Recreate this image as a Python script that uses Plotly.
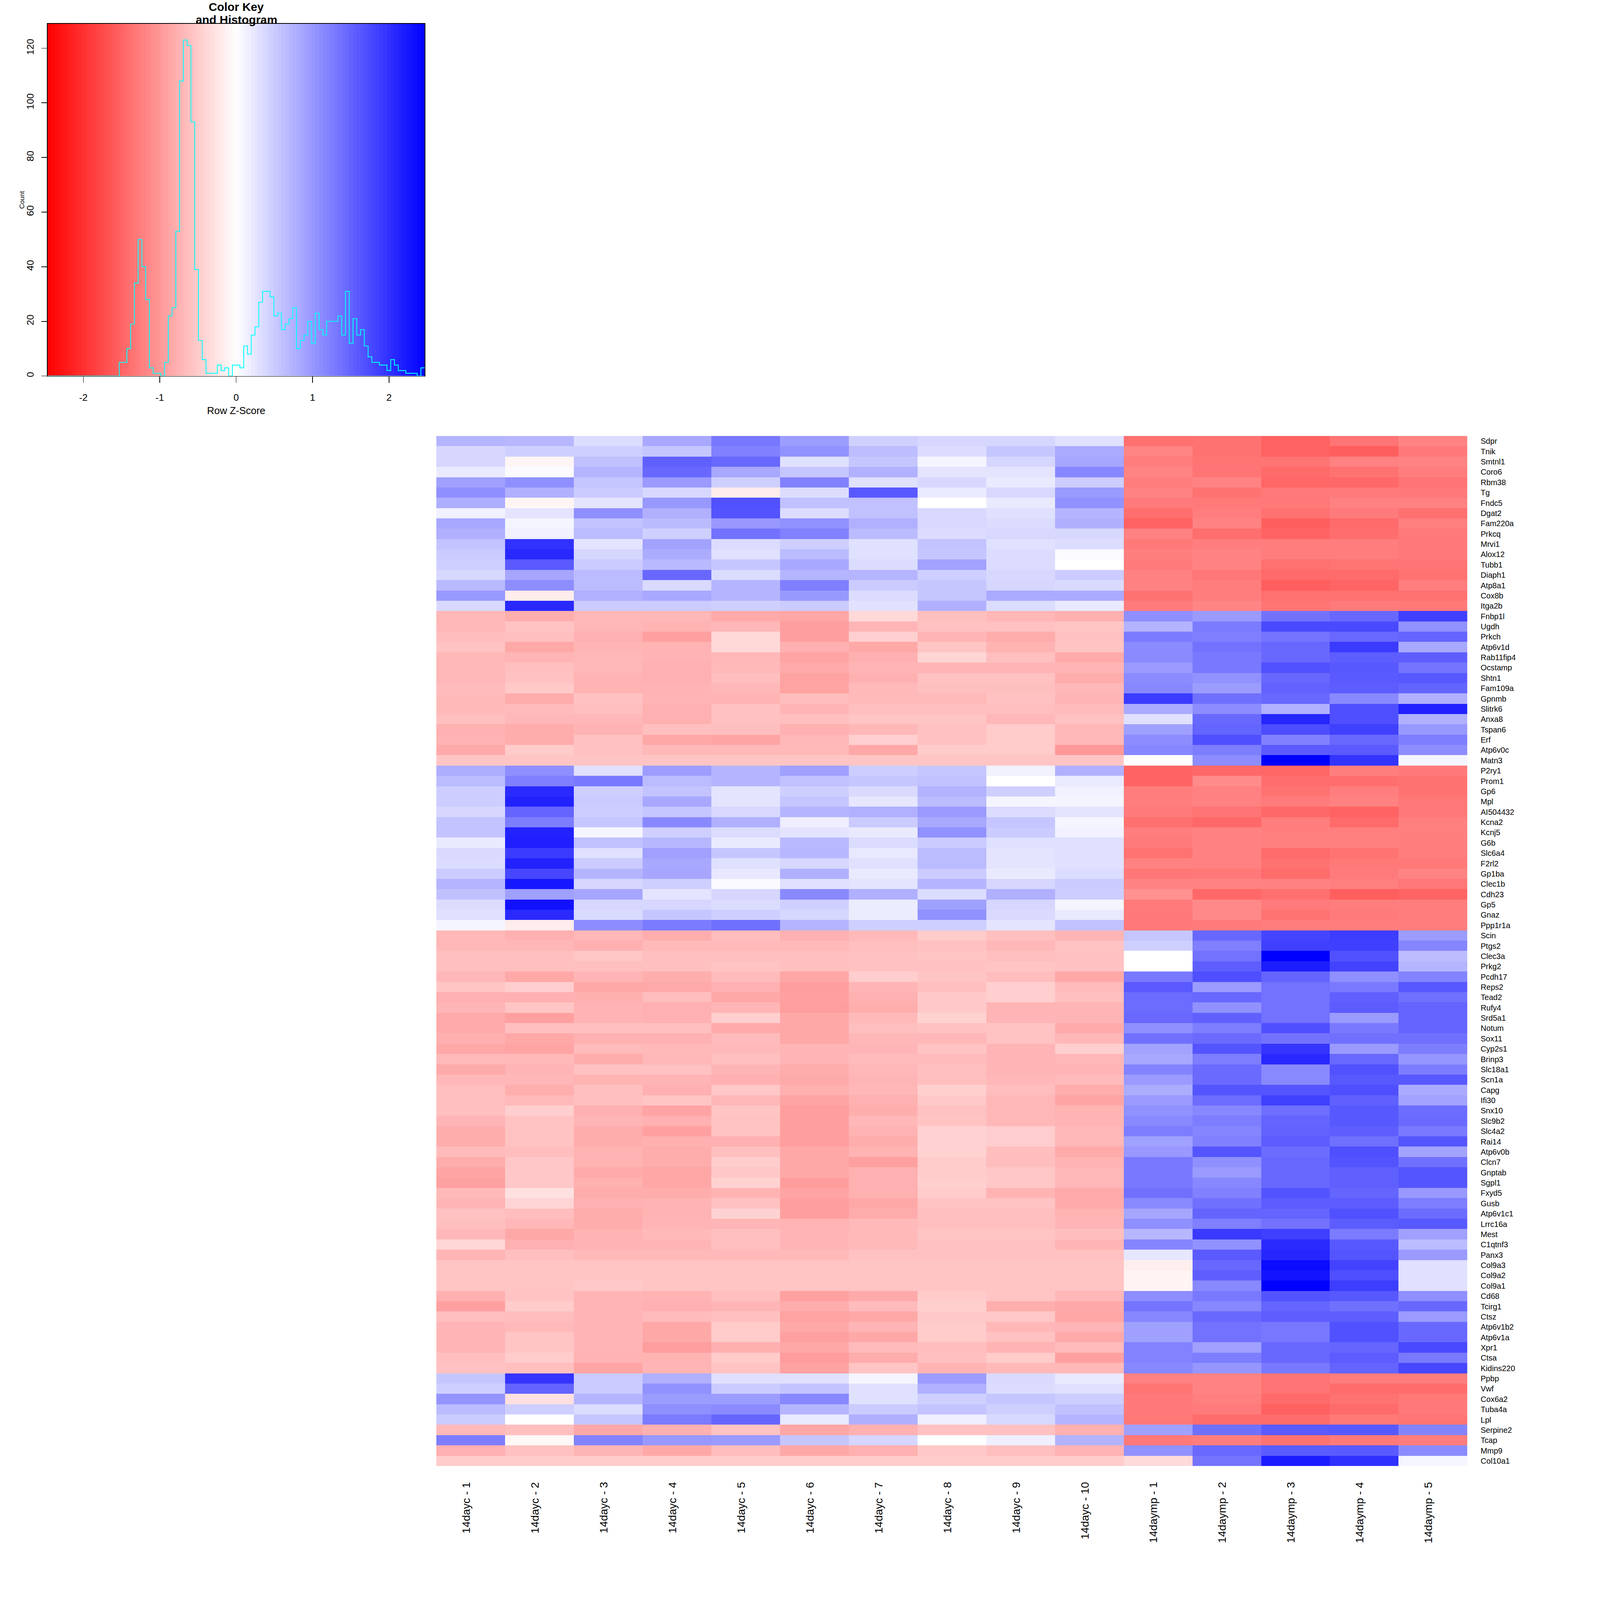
import numpy as np
import plotly.graph_objects as go

genes = ["Sdpr", "Tnik", "Smtnl1", "Coro6", "Rbm38", "Tg", "Fndc5", "Dgat2", "Fam220a", "Prkcq",
         "Mrvi1", "Alox12", "Tubb1", "Diaph1", "Atp8a1", "Cox8b", "Itga2b", "Fnbp1l", "Ugdh", "Prkch",
         "Atp6v1d", "Rab11fip4", "Ocstamp", "Shtn1", "Fam109a", "Gpnmb", "Slitrk6", "Anxa8", "Tspan6", "Erf",
         "Atp6v0c", "Matn3", "P2ry1", "Prom1", "Gp6", "Mpl", "AI504432", "Kcna2", "Kcnj5", "G6b",
         "Slc6a4", "F2rl2", "Gp1ba", "Clec1b", "Cdh23", "Gp5", "Gnaz", "Ppp1r1a", "Scin", "Ptgs2",
         "Clec3a", "Prkg2", "Pcdh17", "Reps2", "Tead2", "Rufy4", "Srd5a1", "Notum", "Sox11", "Cyp2s1",
         "Brinp3", "Slc18a1", "Scn1a", "Capg", "Ifi30", "Snx10", "Slc9b2", "Slc4a2", "Rai14", "Atp6v0b",
         "Clcn7", "Gnptab", "Sgpl1", "Fxyd5", "Gusb", "Atp6v1c1", "Lrrc16a", "Mest", "C1qtnf3", "Panx3",
         "Col9a3", "Col9a2", "Col9a1", "Cd68", "Tcirg1", "Ctsz", "Atp6v1b2", "Atp6v1a", "Xpr1", "Ctsa",
         "Kidins220", "Ppbp", "Vwf", "Cox6a2", "Tuba4a", "Lpl", "Serpine2", "Tcap", "Mmp9", "Col10a1"]

samples = ["14dayc - 1", "14dayc - 2", "14dayc - 3", "14dayc - 4", "14dayc - 5",
           "14dayc - 6", "14dayc - 7", "14dayc - 8", "14dayc - 9", "14dayc - 10",
           "14daymp - 1", "14daymp - 2", "14daymp - 3", "14daymp - 4", "14daymp - 5"]

# row z-scores, top row first
zscores = [
    [.72, .70, .34, .84, 1.31, .95, .45, .40, .40, .30, -1.38, -1.36, -1.52, -1.34, -1.2],
    [.40, .46, .46, .55, 1.22, 1.05, .64, .34, .55, .82, -1.18, -1.36, -1.52, -1.56, -1.3],
    [.40, -.1, .60, 1.54, 1.46, .30, .55, .1, .40, .86, -1.26, -1.34, -1.34, -1.22, -1.2],
    [.2, .05, .72, 1.46, .84, .55, .75, .26, .26, 1.16, -1.2, -1.34, -1.44, -1.36, -1.26],
    [.92, 1.08, .56, .98, .46, 1.22, .3, .38, .2, .48, -1.26, -1.2, -1.48, -1.46, -1.34],
    [1.08, .76, .5, .38, -.18, .34, 1.62, .2, .38, .98, -1.2, -1.36, -1.3, -1.28, -1.3],
    [.78, -.1, .26, 1.0, 1.68, .6, .6, 0, .2, 1.06, -1.28, -1.3, -1.3, -1.22, -1.22],
    [.14, .26, 1.08, .76, 1.65, .34, .6, .38, .3, .72, -1.4, -1.26, -1.36, -1.28, -1.38],
    [.84, .1, .58, .66, 1.0, 1.06, .76, .38, .34, .76, -1.52, -1.2, -1.56, -1.44, -1.24],
    [.76, .14, .66, .46, 1.36, 1.22, .66, .34, .38, .38, -1.22, -1.4, -1.5, -1.4, -1.3],
    [.58, 1.98, .26, .9, .34, .46, .3, .58, .3, .34, -1.3, -1.26, -1.26, -1.26, -1.3],
    [.5, 2.08, .4, .8, .3, .66, .3, .55, .34, .05, -1.24, -1.2, -1.26, -1.26, -1.3],
    [.46, 1.6, .5, .68, .55, .84, .34, .9, .34, 0, -1.28, -1.2, -1.38, -1.34, -1.34],
    [.38, .86, .66, 1.46, .34, .72, .72, .46, .38, .5, -1.22, -1.32, -1.44, -1.44, -1.36],
    [.68, 1.1, .66, .36, .72, 1.24, .5, .55, .4, .36, -1.22, -1.26, -1.56, -1.5, -1.26],
    [1.0, -.18, .76, .84, .72, 1.0, .34, .55, .82, .82, -1.36, -1.26, -1.38, -1.38, -1.38],
    [.38, 2.08, .5, .5, .46, .5, .28, .76, .34, .2, -1.28, -1.18, -1.34, -1.28, -1.3],
    [-.7, -.78, -.7, -.7, -.82, -.86, -.38, -.62, -.7, -.76, 1.08, .98, 1.36, 1.46, 1.85],
    [-.7, -.58, -.7, -.74, -.7, -.94, -.72, -.6, -.6, -.56, .74, 1.28, 1.76, 1.76, 1.06],
    [-.64, -.62, -.76, -.92, -.38, -.94, -.46, -.72, -.8, -.6, 1.28, 1.24, 1.34, 1.46, 1.5],
    [-.58, -.84, -.72, -.74, -.38, -.76, -.84, -.56, -.74, -.58, 1.12, 1.36, 1.46, 1.9, .84],
    [-.7, -.72, -.7, -.74, -.7, -.88, -.76, -.42, -.62, -.82, 1.12, 1.3, 1.46, 1.56, 1.56],
    [-.7, -.62, -.7, -.76, -.68, -.82, -.72, -.72, -.72, -.72, .98, 1.3, 1.68, 1.62, 1.34],
    [-.7, -.6, -.74, -.76, -.62, -.9, -.76, -.6, -.6, -.8, 1.12, 1.06, 1.46, 1.6, 1.62],
    [-.66, -.52, -.74, -.74, -.7, -.9, -.68, -.62, -.62, -.7, 1.16, .96, 1.52, 1.58, 1.5],
    [-.68, -.8, -.6, -.72, -.74, -.64, -.68, -.68, -.6, -.72, 1.9, 1.38, 1.46, 1.14, .76],
    [-.68, -.66, -.62, -.76, -.6, -.72, -.62, -.62, -.62, -.66, .82, 1.1, .76, 1.7, 2.15],
    [-.62, -.7, -.7, -.76, -.6, -.62, -.57, -.57, -.7, -.6, .3, 1.46, 2.1, 1.7, .76],
    [-.76, -.8, -.74, -.62, -.62, -.76, -.7, -.6, -.5, -.7, .92, 1.5, 1.72, 1.85, 1.0],
    [-.74, -.8, -.6, -.84, -.88, -.7, -.46, -.6, -.5, -.7, 1.1, 1.7, 1.22, 1.46, 1.26],
    [-.82, -.5, -.6, -.68, -.68, -.68, -.84, -.5, -.5, -1.0, 1.16, 1.26, 1.6, 1.6, 1.1],
    [-.56, -.56, -.56, -.56, -.56, -.56, -.56, -.56, -.56, -.56, 0, 1.1, 2.47, 1.96, .1],
    [.78, 1.08, .3, .95, .72, .92, .48, .55, .14, .76, -1.5, -1.46, -1.48, -1.24, -1.3],
    [.66, 1.24, 1.3, .66, .72, .6, .55, .6, 0, .2, -1.5, -1.12, -1.4, -1.4, -1.36],
    [.48, 2.06, .46, .58, .26, .46, .36, .74, .46, .14, -1.26, -1.22, -1.36, -1.26, -1.36],
    [.48, 2.14, .5, .84, .26, .56, .24, .66, .1, .1, -1.26, -1.22, -1.28, -1.22, -1.32],
    [.4, 1.5, .48, .56, .38, .72, .76, .98, .34, .26, -1.28, -1.34, -1.46, -1.52, -1.32],
    [.58, 1.26, .55, 1.14, .76, .16, .5, .84, .56, .1, -1.38, -1.46, -1.26, -1.44, -1.24],
    [.58, 2.14, .1, .46, .34, .26, .2, 1.06, .5, .14, -1.26, -1.22, -1.24, -1.24, -1.24],
    [.2, 2.17, .6, .7, .2, .68, .34, .5, .3, .3, -1.28, -1.22, -1.24, -1.24, -1.26],
    [.36, 1.9, .3, .92, .55, .7, .22, .66, .26, .3, -1.36, -1.22, -1.44, -1.36, -1.26],
    [.34, 2.14, .5, .84, .3, .4, .3, .66, .26, .3, -1.22, -1.22, -1.36, -1.3, -1.3],
    [.5, 1.78, .72, .86, .22, .76, .2, .5, .2, .34, -1.32, -1.3, -1.42, -1.28, -1.2],
    [.72, 2.24, .4, .46, .05, .3, .26, .72, .4, .5, -1.2, -1.2, -1.22, -1.24, -1.32],
    [.6, .92, .86, .26, .4, 1.14, .76, .34, .76, .48, -1.06, -1.46, -1.38, -1.56, -1.5],
    [.34, 2.3, .4, .4, .34, .46, .18, .92, .4, .1, -1.28, -1.14, -1.28, -1.26, -1.26],
    [.3, 2.06, .36, .55, .46, .4, .18, 1.06, .36, .2, -1.3, -1.14, -1.36, -1.28, -1.26],
    [.1, -.18, 1.1, 1.28, 1.38, .72, .46, .46, .26, .6, -1.3, -1.28, -1.26, -1.26, -1.26],
    [-.7, -.76, -.7, -.78, -.64, -.76, -.68, -.5, -.62, -.72, .55, 1.46, 1.8, 1.88, .96],
    [-.7, -.7, -.76, -.68, -.68, -.68, -.62, -.6, -.7, -.58, .46, 1.24, 1.85, 1.86, 1.18],
    [-.62, -.62, -.55, -.62, -.62, -.62, -.6, -.57, -.62, -.6, 0, 1.36, 2.47, 1.68, .65],
    [-.62, -.62, -.62, -.62, -.58, -.62, -.6, -.6, -.56, -.6, 0, 1.56, 2.2, 1.82, .72],
    [-.7, -.84, -.72, -.78, -.66, -.86, -.48, -.56, -.64, -.84, 1.3, 1.7, 1.5, 1.08, 1.2],
    [-.56, -.48, -.84, -.82, -.76, -.94, -.72, -.62, -.46, -.66, 1.6, .98, 1.36, 1.3, 1.62],
    [-.76, -.76, -.76, -.64, -.84, -.92, -.76, -.52, -.46, -.62, 1.42, 1.46, 1.36, 1.54, 1.38],
    [-.72, -.56, -.74, -.76, -.72, -.94, -.78, -.52, -.72, -.72, 1.42, 1.06, 1.36, 1.58, 1.5],
    [-.82, -.92, -.74, -.76, -.46, -.84, -.68, -.44, -.72, -.72, 1.46, 1.54, 1.36, .98, 1.5],
    [-.82, -.62, -.62, -.62, -.82, -.84, -.62, -.6, -.58, -.82, 1.08, 1.26, 1.7, 1.3, 1.5],
    [-.76, -.84, -.76, -.76, -.66, -.84, -.7, -.7, -.58, -.7, 1.38, 1.44, 1.36, 1.38, 1.38],
    [-.84, -.88, -.66, -.68, -.68, -.72, -.72, -.58, -.72, -.46, .9, 1.64, 1.95, .98, 1.26],
    [-.68, -.68, -.8, -.7, -.62, -.72, -.66, -.66, -.72, -.7, .84, 1.26, 2.08, 1.46, 1.02],
    [-.82, -.72, -.6, -.6, -.72, -.8, -.7, -.62, -.72, -.72, 1.2, 1.44, 1.14, 1.68, 1.26],
    [-.7, -.7, -.74, -.72, -.76, -.82, -.72, -.62, -.7, -.66, .98, 1.44, 1.14, 1.62, 1.62],
    [-.62, -.78, -.62, -.76, -.54, -.76, -.7, -.46, -.64, -.8, .8, 1.64, 1.64, 1.7, .82],
    [-.62, -.68, -.62, -.56, -.7, -.88, -.76, -.52, -.7, -.88, .98, 1.42, 1.85, 1.54, .9],
    [-.62, -.46, -.76, -.88, -.56, -.94, -.78, -.6, -.7, -.74, 1.06, 1.16, 1.4, 1.62, 1.42],
    [-.72, -.58, -.72, -.76, -.58, -.94, -.7, -.58, -.7, -.74, 1.14, 1.26, 1.5, 1.62, 1.44],
    [-.8, -.58, -.8, -.92, -.58, -.94, -.74, -.44, -.48, -.7, 1.26, 1.18, 1.52, 1.56, 1.3],
    [-.8, -.58, -.8, -.76, -.76, -.94, -.8, -.44, -.48, -.7, .92, 1.22, 1.58, 1.38, 1.64],
    [-.66, -.64, -.74, -.8, -.62, -.84, -.74, -.44, -.62, -.82, 1.0, 1.64, 1.42, 1.7, .9],
    [-.8, -.54, -.74, -.8, -.48, -.84, -.92, -.5, -.64, -.74, 1.3, 1.08, 1.46, 1.66, 1.38],
    [-.88, -.54, -.82, -.86, -.54, -.84, -.76, -.5, -.54, -.7, 1.3, .98, 1.46, 1.54, 1.64],
    [-.92, -.54, -.76, -.86, -.44, -.96, -.76, -.46, -.54, -.7, 1.3, 1.16, 1.46, 1.54, 1.64],
    [-.68, -.3, -.8, -.8, -.74, -.88, -.76, -.5, -.74, -.82, 1.38, 1.22, 1.66, 1.5, 1.0],
    [-.72, -.42, -.76, -.74, -.6, -.94, -.84, -.58, -.58, -.82, 1.14, 1.38, 1.58, 1.58, 1.26],
    [-.6, -.64, -.8, -.74, -.44, -.94, -.8, -.62, -.62, -.74, .86, 1.5, 1.5, 1.68, 1.42],
    [-.62, -.7, -.8, -.72, -.72, -.74, -.68, -.62, -.62, -.72, 1.08, 1.24, 1.36, 1.58, 1.62],
    [-.7, -.84, -.74, -.68, -.62, -.72, -.68, -.56, -.56, -.62, .7, 1.92, 1.86, 1.28, .92],
    [-.4, -.76, -.74, -.72, -.62, -.72, -.68, -.6, -.6, -.72, 1.18, 1.06, 2.06, 1.62, .66],
    [-.72, -.62, -.68, -.68, -.68, -.68, -.6, -.6, -.6, -.6, .24, 1.6, 2.1, 1.64, .98],
    [-.57, -.57, -.57, -.57, -.57, -.57, -.57, -.57, -.57, -.57, -.16, 1.46, 2.36, 1.82, .3],
    [-.57, -.57, -.57, -.57, -.57, -.57, -.57, -.57, -.57, -.57, -.12, 1.56, 2.28, 1.7, .3],
    [-.57, -.57, -.52, -.57, -.57, -.57, -.57, -.57, -.57, -.57, -.12, 1.14, 2.47, 1.88, .3],
    [-.76, -.58, -.72, -.74, -.62, -.92, -.82, -.5, -.56, -.7, 1.1, 1.3, 1.66, 1.62, 1.08],
    [-.92, -.5, -.72, -.76, -.72, -.8, -.66, -.46, -.78, -.82, 1.34, 1.16, 1.5, 1.38, 1.46],
    [-.62, -.64, -.72, -.66, -.62, -.9, -.84, -.52, -.54, -.86, 1.16, 1.46, 1.56, 1.56, .98],
    [-.72, -.68, -.72, -.84, -.5, -.84, -.72, -.5, -.7, -.72, .92, 1.36, 1.32, 1.68, 1.46],
    [-.72, -.56, -.72, -.84, -.5, -.92, -.84, -.5, -.6, -.82, .92, 1.36, 1.32, 1.68, 1.46],
    [-.72, -.56, -.72, -.94, -.76, -.84, -.66, -.64, -.74, -.66, 1.2, .92, 1.46, 1.48, 1.76],
    [-.62, -.5, -.74, -.74, -.5, -.96, -.8, -.62, -.5, -.92, 1.2, 1.26, 1.46, 1.58, 1.3],
    [-.6, -.62, -.88, -.72, -.58, -.9, -.56, -.74, -.68, -.68, 1.16, 1.02, 1.3, 1.5, 1.78],
    [.55, 1.96, .5, .76, .3, .3, .1, .96, .36, .2, -1.22, -1.2, -1.34, -1.26, -1.26],
    [.46, 1.5, .5, 1.06, .5, .58, .3, .76, .34, .3, -1.34, -1.2, -1.34, -1.42, -1.42],
    [1.04, -.3, .72, .96, .96, 1.16, .3, .46, .56, .48, -1.3, -1.24, -1.44, -1.36, -1.3],
    [.66, .46, .34, 1.08, 1.12, .72, .5, .58, .46, .6, -1.3, -1.28, -1.54, -1.44, -1.3],
    [.5, 0, .55, 1.28, 1.48, .22, .76, .16, .38, .72, -1.3, -1.42, -1.42, -1.3, -1.34],
    [-.68, -.62, -.84, -.76, -.58, -.86, -.76, -.6, -.6, -.76, .92, 1.38, 1.6, 1.62, 1.2],
    [1.26, -.08, 1.2, 1.0, .98, .56, .4, 0, .15, .74, -1.3, -1.26, -1.36, -1.3, -1.26],
    [-.76, -.6, -.72, -.84, -.64, -.84, -.76, -.52, -.62, -.74, 1.06, 1.46, 1.58, 1.6, 1.12],
    [-.5, -.5, -.5, -.5, -.5, -.5, -.5, -.5, -.5, -.5, -.36, 1.34, 2.2, 2.0, .1],
]

# histogram in the colour key, one count per bin
hist_counts = [0, 0, 0, 0, 0, 0, 0, 0, 0, 0, 0, 0, 0, 0, 0, 0, 0, 0, 0, 5,
               5, 10, 19, 34, 50, 40, 28, 3, 1, 1, 0, 5, 22, 25, 53, 108, 123, 121, 93, 39,
               13, 6, 1, 1, 1, 4, 2, 3, 0, 4, 4, 3, 11, 8, 15, 18, 27, 31, 31, 29,
               22, 23, 17, 19, 21, 25, 10, 13, 15, 20, 12, 23, 17, 15, 20, 20, 20, 22, 15, 31,
               12, 21, 15, 17, 11, 7, 5, 5, 4, 4, 2, 6, 4, 2, 2, 1, 1, 1, 0, 3]

z_limit = 2.467
key_ticks = [-2, -1, 0, 1, 2]
key_tick_labels = ["-2", "-1", "0", "1", "2"]
count_ticks = [0, 20, 40, 60, 80, 100, 120]
bluered = [[0, "#ff0000"], [0.5, "#ffffff"], [1, "#0000ff"]]
FONT = "Liberation Sans"
SIZE = 4800


def dom_x(a, b):
    return [a / SIZE, b / SIZE]


def dom_y(top, bottom):
    return [1 - bottom / SIZE, 1 - top / SIZE]


breaks = np.linspace(-z_limit, z_limit, len(hist_counts) + 1)
centres = (breaks[:-1] + breaks[1:]) / 2

fig = go.Figure()

fig.add_trace(go.Heatmap(z=zscores, x=samples, y=genes, colorscale=bluered, zmin=-z_limit, zmax=z_limit,
                         showscale=False, xaxis="x", yaxis="y"))

# colour key ramp, then the histogram on top
fig.add_trace(go.Heatmap(z=[centres], x=breaks, y=[0, 129], colorscale=bluered, zmin=-z_limit, zmax=z_limit,
                         showscale=False, xaxis="x2", yaxis="y2", hoverinfo="skip"))
fig.add_trace(go.Scatter(x=breaks, y=hist_counts + [hist_counts[-1]], mode="lines",
                         line=dict(color="#00ffff", width=2.5, shape="hv"),
                         xaxis="x2", yaxis="y2", showlegend=False))

fig.update_layout(
    width=SIZE, height=SIZE, margin=dict(l=0, r=0, t=0, b=0),
    paper_bgcolor="white", plot_bgcolor="white", showlegend=False,
    font=dict(family=FONT, color="black", size=29),
    xaxis=dict(domain=dom_x(1309, 4402), showticklabels=False, ticks="", showgrid=False,
               zeroline=False, showline=False, anchor="y"),
    yaxis=dict(domain=dom_y(1309, 4402), side="right", autorange="reversed", tickmode="array",
               tickvals=genes, ticktext=genes, ticks="", ticklabelstandoff=39, showgrid=False,
               zeroline=False, showline=False, anchor="x", tickfont=dict(size=23.5, family=FONT)),
    xaxis2=dict(domain=dom_x(143, 1274), range=[-z_limit, z_limit], tickmode="array", tickvals=key_ticks,
                ticktext=key_tick_labels, ticks="outside", ticklen=18, tickwidth=2, tickcolor="black",
                showline=True, linecolor="black", linewidth=2, mirror=True, showgrid=False, zeroline=False,
                anchor="y2", ticklabelstandoff=20, tickfont=dict(size=29, family=FONT),
                title=dict(text="Row Z-Score", standoff=13, font=dict(size=30, family=FONT))),
    yaxis2=dict(domain=dom_y(71, 1129), range=[0, 129], tickmode="array", tickvals=count_ticks,
                ticks="outside", ticklen=17, tickwidth=2, tickcolor="black", showline=True, linecolor="black",
                linewidth=2, mirror=True, showgrid=False, zeroline=False, anchor="x2", tickangle=-90,
                ticklabelstandoff=12, tickfont=dict(size=29, family=FONT)),
)

# sample labels sit a little left of the column centre, reading upward
for name in samples:
    fig.add_annotation(x=name, xref="x", y=1 - 4448 / SIZE, yref="paper", text=name, textangle=-90,
                       showarrow=False, xanchor="center", yanchor="top", xshift=-14,
                       font=dict(size=33, family=FONT))

fig.add_annotation(x=65 / SIZE, xref="paper", y=1 - 600 / SIZE, yref="paper", text="Count", textangle=-90,
                   showarrow=False, xanchor="center", yanchor="middle", font=dict(size=20, family=FONT))
fig.add_annotation(x=709 / SIZE, xref="paper", y=1 - 21 / SIZE, yref="paper", text="<b>Color Key</b>",
                   showarrow=False, xanchor="center", yanchor="middle", font=dict(size=35, family=FONT))
fig.add_annotation(x=709 / SIZE, xref="paper", y=1 - 60 / SIZE, yref="paper", text="<b>and Histogram</b>",
                   showarrow=False, xanchor="center", yanchor="middle", font=dict(size=35, family=FONT))

# the browser window can be narrower than the figure, so scale the page to fit
fig.write_html("out.html", config={"displayModeBar": False},
               post_script="document.body.style.margin='0';"
                           "document.body.style.zoom=window.innerWidth/4800;")
